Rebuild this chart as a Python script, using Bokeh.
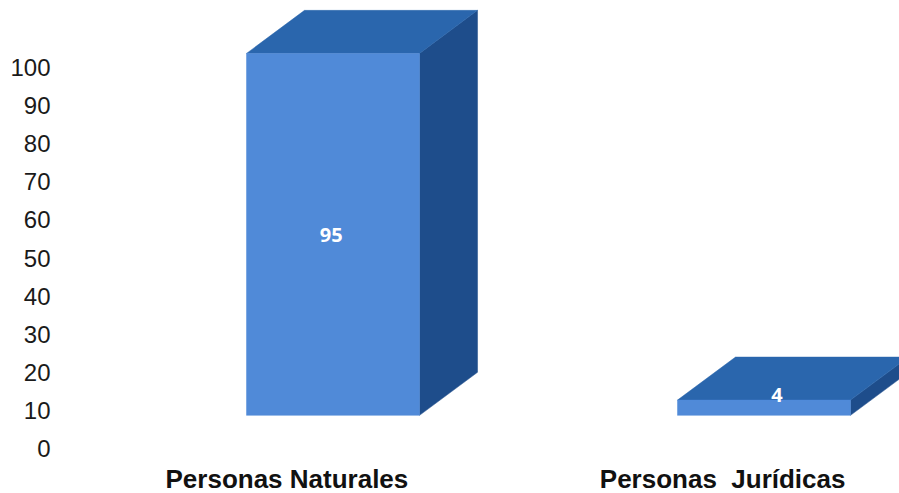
from bokeh.plotting import figure
from bokeh.models import FixedTicker, Range1d
from bokeh.core.properties import value
from bokeh.embed import file_html
from bokeh.resources import INLINE

categories = ["Personas Naturales", "Personas\u00a0 Jurídicas"]
bar_values = [95, 4]
bar_positions = [0.0, 1.0]
value_label_x = [-0.004, 1.03]
value_label_y = [56.0, 14.1]
category_label_x = [-0.107, 0.904]
category_label_y = [-8.0, -8.0]
y_ticks = [0, 10, 20, 30, 40, 50, 60, 70, 80, 90, 100]

FLOOR = 8.7      # front-face base in value units (3D perspective offset)
BAR_W = 0.4014   # front-face width, category units
DEPTH_X = 0.1346 # 3D depth, category units
DEPTH_Y = 11.3   # 3D depth, value units

FRONT, TOP, SIDE = "#508ad8", "#2a66ad", "#1e4d8b"

p = figure(width=899, height=493, output_backend="svg", toolbar_location=None,
           x_range=Range1d(-0.6323, 1.3144), y_range=Range1d(-11.81, 117.59),
           x_axis_location=None, min_border_left=60, min_border_right=0,
           min_border_top=0, min_border_bottom=0)
p.outline_line_color = None
p.grid.visible = False
p.background_fill_color = "white"
p.border_fill_color = "white"

ax = p.yaxis[0]
ax.ticker = FixedTicker(ticks=y_ticks)
ax.axis_line_color = None
ax.major_tick_line_color = None
ax.minor_tick_line_color = None
ax.major_label_standoff = 4
ax.major_label_text_font = "Liberation Sans"
ax.major_label_text_font_size = "24px"
ax.major_label_text_color = "#1a1a1a"

front_x, front_y, top_x, top_y, side_x, side_y = [], [], [], [], [], []
for c, v in zip(bar_positions, bar_values):
    l, r = c - BAR_W / 2, c + BAR_W / 2
    t = FLOOR + v
    front_x.append([l, r, r, l])
    front_y.append([FLOOR, FLOOR, t, t])
    top_x.append([l, r, r + DEPTH_X, l + DEPTH_X])
    top_y.append([t, t, t + DEPTH_Y, t + DEPTH_Y])
    side_x.append([r, r + DEPTH_X, r + DEPTH_X, r])
    side_y.append([FLOOR, FLOOR + DEPTH_Y, t + DEPTH_Y, t])

p.patches(side_x, side_y, fill_color=SIDE, line_color=SIDE, line_width=0.5)
p.patches(top_x, top_y, fill_color=TOP, line_color=TOP, line_width=0.5)
p.patches(front_x, front_y, fill_color=FRONT, line_color=FRONT, line_width=0.5)

p.text(value_label_x, value_label_y, text=[str(v) for v in bar_values],
       text_color="white", text_font=value("Open Sans"), text_font_style="bold",
       text_font_size="20px", text_align="center", text_baseline="middle")
p.text(category_label_x, category_label_y, text=categories,
       text_color="#111111", text_font=value("Liberation Sans"), text_font_style="bold",
       text_font_size="26px", text_align="center", text_baseline="middle")

open("out.html", "w").write(file_html(p, INLINE))
